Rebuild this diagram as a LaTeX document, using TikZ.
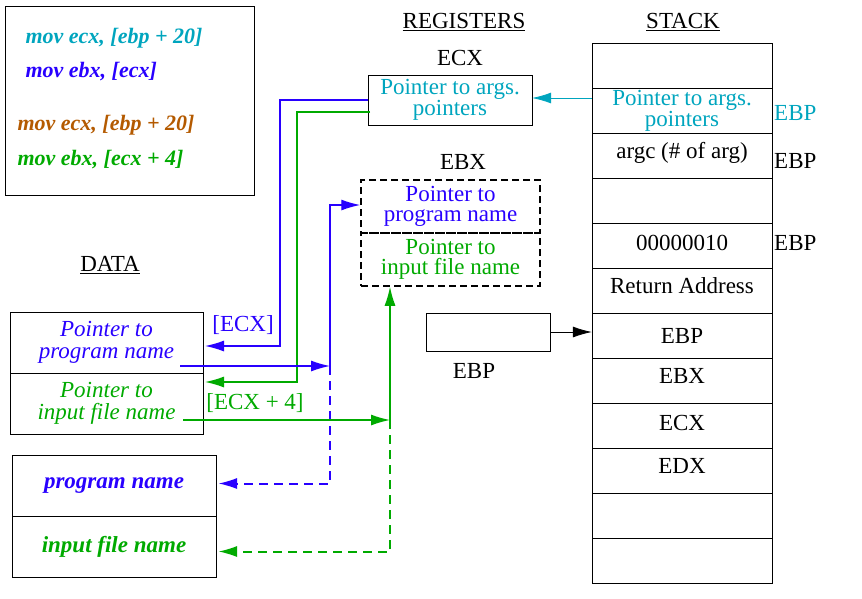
\documentclass[tikz,border=0pt]{standalone}
\usepackage{fontspec}
\setmainfont{Liberation Serif}
\usetikzlibrary{arrows.meta,positioning,calc}
\definecolor{regblue}{RGB}{40,0,255}
\definecolor{reggreen}{RGB}{0,170,0}
\definecolor{regcyan}{RGB}{0,165,190}
\definecolor{regbrown}{RGB}{180,90,0}
\tikzset{
  cell/.style={draw,minimum width=180pt,minimum height=45pt,inner sep=0pt},
  box/.style={draw,inner sep=0pt,align=center,font=\fontsize{23}{20}\selectfont},
  code/.style={anchor=west,font=\fontsize{22}{22}\selectfont\bfseries\itshape},
  lbl/.style={font=\fontsize{23}{22}\selectfont},
  tip/.style={line width=1.3pt,-{Latex[length=19pt,width=11pt]}},
  dashtip/.style={line width=2pt,dash pattern=on 9pt off 6pt,-{Latex[length=18pt,width=11pt,line width=0pt]}},
}
\begin{document}
\begin{tikzpicture}[x=1pt,y=-1pt]
        \useasboundingbox (0,0) rectangle (862,598);
        %%%STACK%%%
        \node[lbl] at (683,22) {\underline{STACK}};
        \foreach \i in {0,...,11}
            \node[cell] (s\i) at (682,{65.5+45*\i}) {};
        \node[lbl,text=regcyan,align=center,font=\fontsize{23}{19}\selectfont] at (s1) {Pointer to args.\\pointers};
        \node[lbl] at ($(s2)+(0,-3)$) {argc (\# of arg)};
        \node[lbl] at ($(s4)+(0,-3)$) {00000010};
        \node[lbl] at ($(s5)+(0,-5)$) {Return Address};
        \node[lbl] at (s6) {EBP};
        \node[lbl] at ($(s7)+(0,-5)$) {EBX};
        \node[lbl] at ($(s8)+(0,-3)$) {ECX};
        \node[lbl] at ($(s9)+(0,-5)$) {EDX};
        \node[lbl,text=regcyan,anchor=west,inner sep=1pt] at (773,113) {EBP};
        \node[lbl,anchor=west,inner sep=1pt] at (773,161) {EBP};
        \node[lbl,anchor=west,inner sep=1pt] at (773,243) {EBP};
        %%%REGISTERS%%%
        \node[lbl] at (464,22) {\underline{REGISTERS}};
        \node[lbl] at (460,58) {ECX};
        \node[box,minimum width=164pt,minimum height=50pt,text=regcyan,font=\fontsize{23}{19}\selectfont] (ecx) at (450,100) {Pointer to args.\\pointers};
        \node[lbl] at (463,162) {EBX};
        \node[box,dash pattern=on 7pt off 4pt,line width=1.5pt,minimum width=179pt,minimum height=53pt,text=regblue] (ebxa) at (450.5,206.5) {Pointer to\\program name};
        \node[box,dash pattern=on 7pt off 4pt,line width=1.5pt,minimum width=179pt,minimum height=53pt,text=reggreen] (ebxb) at (450.5,259.5) {Pointer to\\input file name};
        \node[box,minimum width=124pt,minimum height=38pt] (ebp) at (488,332) {};
        \node[lbl] at (474,371) {EBP};
        \draw[tip,line width=0.8pt] (ebp.east) -- (ebp.east -| s6.west);
        \draw[tip,regcyan,line width=0.8pt] (s1.west |- 0,98) -- (ecx.east |- 0,98);
        %%%DATA%%%
        \node[lbl] at (110,265) {\underline{DATA}};
        \node[box,minimum width=193pt,minimum height=61pt,text=regblue,font=\fontsize{23}{22}\selectfont\itshape] (pa) at (106.5,342.5) {Pointer to\\program name};
        \node[box,minimum width=193pt,minimum height=61pt,text=reggreen,font=\fontsize{23}{22}\selectfont\itshape] (pb) at (106.5,403.5) {Pointer to\\input file name};
        \node[box,minimum width=204pt,minimum height=61pt,text=regblue,font=\fontsize{23}{22}\selectfont\bfseries\itshape] (na) at (114,485.5) {program name};
        \node[box,minimum width=204pt,minimum height=61pt,text=reggreen,font=\fontsize{23}{22}\selectfont\bfseries\itshape] (nb) at (114,546.5) {input file name};
        %%%CODE%%%
        \node[box,minimum width=249pt,minimum height=189pt,line width=0.8pt] (src) at (129.5,100.5) {};
        \node[code,text=regcyan] at (22,38) {mov ecx, [ebp + 20]};
        \node[code,text=regblue] at (22,72) {mov ebx, [ecx]};
        \node[code,text=regbrown] at (14,125) {mov ecx, [ebp + 20]};
        \node[code,text=reggreen] at (14,160) {mov ebx, [ecx + 4]};
        %%%ARROWS%%%
        \coordinate (bj) at (330,366);
        \coordinate (gj) at (390,420);
        \draw[tip,regblue] (368,100) -| (280,346) -- (205,346);
        \node[lbl,text=regblue] at (243,325) {[ECX]};
        \draw[tip,reggreen] (370,112) -| (297,382) -- (205,382);
        \node[lbl,text=reggreen] at (255,403) {[ECX + 4]};
        \draw[tip,regblue] (180,366) -- (bj);
        \draw[tip,regblue] (bj) |- (ebxa.west |- 0,205);
        \draw[dashtip,regblue] (bj) |- ($(na.east)+(3,-2)$);
        \draw[tip,reggreen] (183,420) -- (gj);
        \draw[tip,reggreen] (gj) -- (gj |- ebxb.south);
        \draw[dashtip,reggreen] (gj) |- ($(nb.east)+(3,5)$);
\end{tikzpicture}
\end{document}
